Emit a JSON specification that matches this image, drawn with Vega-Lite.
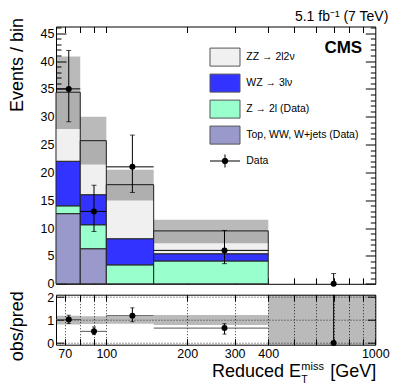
{
  "$schema": "https://vega.github.io/schema/vega-lite/v6.json",
  "padding": {"left": 8, "top": 9.5, "right": 0, "bottom": 0},
  "title": {"text": "5.1 fb⁻¹ (7 TeV)", "anchor": "end", "fontSize": 14, "fontWeight": "normal", "font": "Liberation Sans", "frame": "group", "dx": 13, "offset": -18, "baseline": "alphabetic", "color": "black"},
  "datasets": {
    "stack": [
      {"lo": 65, "hi": 80, "proc": "Top, WW, W+jets (Data)", "v": 12.6, "ord": 1},
      {"lo": 65, "hi": 80, "proc": "Z → 2l (Data)", "v": 1.4, "ord": 2},
      {"lo": 65, "hi": 80, "proc": "WZ → 3lν", "v": 8.0, "ord": 3},
      {"lo": 65, "hi": 80, "proc": "ZZ → 2l2ν", "v": 12.4, "ord": 4},
      {"lo": 80, "hi": 100, "proc": "Top, WW, W+jets (Data)", "v": 6.3, "ord": 1},
      {"lo": 80, "hi": 100, "proc": "Z → 2l (Data)", "v": 4.3, "ord": 2},
      {"lo": 80, "hi": 100, "proc": "WZ → 3lν", "v": 5.4, "ord": 3},
      {"lo": 80, "hi": 100, "proc": "ZZ → 2l2ν", "v": 9.7, "ord": 4},
      {"lo": 100, "hi": 150, "proc": "Z → 2l (Data)", "v": 3.4, "ord": 2},
      {"lo": 100, "hi": 150, "proc": "WZ → 3lν", "v": 4.7, "ord": 3},
      {"lo": 100, "hi": 150, "proc": "ZZ → 2l2ν", "v": 9.7, "ord": 4},
      {"lo": 150, "hi": 400, "proc": "Z → 2l (Data)", "v": 4.1, "ord": 2},
      {"lo": 150, "hi": 400, "proc": "WZ → 3lν", "v": 1.3, "ord": 3},
      {"lo": 150, "hi": 400, "proc": "ZZ → 2l2ν", "v": 4.1, "ord": 4}
    ],
    "band": [
      {"lo": 65, "hi": 80, "blo": 27.8, "bhi": 40.8},
      {"lo": 80, "hi": 100, "blo": 21.4, "bhi": 30.0},
      {"lo": 100, "hi": 150, "blo": 14.95, "bhi": 20.5},
      {"lo": 150, "hi": 400, "blo": 7.3, "bhi": 11.5}
    ],
    "rband": [
      {"lo": 65, "hi": 80, "blo": 0.81, "bhi": 1.19},
      {"lo": 80, "hi": 100, "blo": 0.83, "bhi": 1.17},
      {"lo": 100, "hi": 150, "blo": 0.84, "bhi": 1.16},
      {"lo": 150, "hi": 400, "blo": 0.78, "bhi": 1.22},
      {"lo": 400, "hi": 1000, "blo": -0.07, "bhi": 2.1}
    ],
    "obs": [
      {"xc": 72.5, "lo": 65, "hi": 80, "n": 35, "elo": 29.1, "ehi": 41.9, "r": 1.02, "rlo": 0.85, "rhi": 1.21},
      {"xc": 90, "lo": 80, "hi": 100, "n": 13, "elo": 9.4, "ehi": 17.7, "r": 0.51, "rlo": 0.37, "rhi": 0.7},
      {"xc": 125, "lo": 100, "hi": 150, "n": 21, "elo": 16.4, "ehi": 26.7, "r": 1.19, "rlo": 0.93, "rhi": 1.53},
      {"xc": 275, "lo": 150, "hi": 400, "n": 6, "elo": 3.62, "ehi": 9.58, "r": 0.65, "rlo": 0.39, "rhi": 0.84},
      {"xc": 700, "lo": 400, "hi": 1000, "n": 0, "elo": 0, "ehi": 1.84, "r": 0, "rlo": 0, "rhi": 2.1}
    ]
  },
  "vconcat": [
    {
      "width": 319.3,
      "height": 257.3,
      "resolve": {"axis": {"x": "independent", "y": "independent"}},
      "layer": [
        {
          "data": {"name": "stack"},
          "transform": [{"stack": "v", "groupby": ["lo"], "sort": [{"field": "ord", "order": "ascending"}], "as": ["s0", "s1"]}],
          "mark": {"type": "rect", "stroke": "#222", "strokeWidth": 1},
          "encoding": {
            "x": {"field": "lo", "type": "quantitative", "scale": {"type": "log", "domain": [65, 1000], "nice": false},
                  "axis": {"orient": "bottom", "values": [70, 80, 90, 100, 200, 300, 400, 500, 600, 700, 800, 900], "tickSize": -6, "labels": false, "title": null}},
            "x2": {"field": "hi"},
            "y": {"field": "s1", "type": "quantitative", "scale": {"domain": [0, 46.2], "nice": false, "zero": false},
                  "axis": {"orient": "left", "values": [0, 5, 10, 15, 20, 25, 30, 35, 40, 45], "tickSize": -10, "labelPadding": 12, "title": "Events / bin", "titleFontSize": 18, "titleAngle": -90, "titleX": -33, "titleY": -9, "titleAlign": "right", "titleBaseline": "alphabetic"}},
            "y2": {"field": "s0"},
            "fill": {"field": "proc", "type": "nominal",
                     "scale": {"domain": ["ZZ → 2l2ν", "WZ → 3lν", "Z → 2l (Data)", "Top, WW, W+jets (Data)"], "range": ["#f0f0f0", "#3333ff", "#99ffcc", "#9999cc"]},
                     "legend": {"orient": "none", "legendX": 155.5, "legendY": 17.1, "title": null, "direction": "vertical", "padding": 0, "rowPadding": 1, "symbolSize": 676,
                                "symbolType": "M-1.154,-0.692L1.154,-0.692L1.154,0.692L-1.154,0.692Z", "symbolStrokeColor": "#555", "symbolStrokeWidth": 1, "symbolOpacity": 1,
                                "labelFontSize": 10.5, "labelOffset": 7.8, "labelLimit": 300, "labelColor": "black"}}
          }
        },
        {
          "data": {"values": []},
          "mark": {"type": "point", "fill": "black", "stroke": "black", "strokeWidth": 1, "opacity": 1},
          "encoding": {
            "x": {"field": "px", "type": "quantitative", "scale": {"type": "log", "domain": [65, 1000], "nice": false}, "axis": null},
            "y": {"field": "py", "type": "quantitative", "scale": {"domain": [0, 46.2], "nice": false, "zero": false}, "axis": null},
            "shape": {"datum": "Data", "type": "nominal",
                      "scale": {"domain": ["Data"], "range": ["M-1.154,-0.04L1.154,-0.04L1.154,0.04L-1.154,0.04Z M-0.04,-0.5L0.04,-0.5L0.04,0.5L-0.04,0.5Z M0.25,0A0.25,0.25,0,1,1,-0.25,0A0.25,0.25,0,1,1,0.25,0Z"]},
                      "legend": {"orient": "none", "legendX": 155.5, "legendY": 121.1, "title": null, "padding": 0, "symbolSize": 676, "symbolStrokeColor": "black", "symbolFillColor": "black", "symbolStrokeWidth": 1, "symbolOpacity": 1,
                                 "labelFontSize": 10.5, "labelOffset": 7.8, "labelLimit": 300, "labelColor": "black",
                                 "encode": {"symbols": {"update": {"fill": {"value": "black"}}}}}}
          }
        },
        {
          "data": {"name": "band"},
          "mark": {"type": "rect", "fill": "#000", "fillOpacity": 0.27},
          "encoding": {
            "x": {"field": "lo", "type": "quantitative", "scale": {"type": "log", "domain": [65, 1000], "nice": false},
                  "axis": {"orient": "top", "values": [70, 80, 90, 100, 200, 300, 400, 500, 600, 700, 800, 900], "tickSize": -6, "labels": false, "title": null}},
            "x2": {"field": "hi"},
            "y": {"field": "blo", "type": "quantitative", "scale": {"domain": [0, 46.2], "nice": false, "zero": false},
                  "axis": {"orient": "right", "values": [0, 5, 10, 15, 20, 25, 30, 35, 40, 45], "tickSize": -10, "labels": false, "title": null}},
            "y2": {"field": "bhi"}
          }
        },
        {
          "data": {"name": "obs"},
          "mark": {"type": "rule", "color": "black", "strokeWidth": 1},
          "encoding": {
            "x": {"field": "xc", "type": "quantitative", "scale": {"type": "log", "domain": [65, 1000], "nice": false}, "axis": null},
            "y": {"field": "elo", "type": "quantitative", "scale": {"domain": [0, 46.2], "nice": false, "zero": false},
                  "axis": {"orient": "left", "values": [1, 2, 3, 4, 6, 7, 8, 9, 11, 12, 13, 14, 16, 17, 18, 19, 21, 22, 23, 24, 26, 27, 28, 29, 31, 32, 33, 34, 36, 37, 38, 39, 41, 42, 43, 44, 46], "tickSize": -5, "labels": false, "title": null}},
            "y2": {"field": "ehi"}
          }
        },
        {
          "data": {"name": "obs"},
          "transform": [{"filter": "datum.n > 0"}],
          "mark": {"type": "rule", "color": "black", "strokeWidth": 1},
          "encoding": {
            "x": {"field": "lo", "type": "quantitative", "scale": {"type": "log", "domain": [65, 1000], "nice": false}, "axis": null},
            "x2": {"field": "hi"},
            "y": {"field": "n", "type": "quantitative", "scale": {"domain": [0, 46.2], "nice": false, "zero": false},
                  "axis": {"orient": "right", "values": [1, 2, 3, 4, 6, 7, 8, 9, 11, 12, 13, 14, 16, 17, 18, 19, 21, 22, 23, 24, 26, 27, 28, 29, 31, 32, 33, 34, 36, 37, 38, 39, 41, 42, 43, 44, 46], "tickSize": -5, "labels": false, "title": null}}
          }
        },
        {
          "data": {"name": "obs"},
          "mark": {"type": "tick", "orient": "horizontal", "color": "black", "size": 5, "thickness": 1},
          "encoding": {
            "x": {"field": "xc", "type": "quantitative", "scale": {"type": "log", "domain": [65, 1000], "nice": false}, "axis": null},
            "y": {"field": "ehi", "type": "quantitative", "scale": {"domain": [0, 46.2], "nice": false, "zero": false}, "axis": null}
          }
        },
        {
          "data": {"name": "obs"},
          "mark": {"type": "tick", "orient": "horizontal", "color": "black", "size": 5, "thickness": 1},
          "encoding": {
            "x": {"field": "xc", "type": "quantitative", "scale": {"type": "log", "domain": [65, 1000], "nice": false}, "axis": null},
            "y": {"field": "elo", "type": "quantitative", "scale": {"domain": [0, 46.2], "nice": false, "zero": false}, "axis": null}
          }
        },
        {
          "data": {"name": "obs"},
          "mark": {"type": "point", "filled": true, "color": "black", "size": 36, "opacity": 1},
          "encoding": {
            "x": {"field": "xc", "type": "quantitative", "scale": {"type": "log", "domain": [65, 1000], "nice": false}, "axis": null},
            "y": {"field": "n", "type": "quantitative", "scale": {"domain": [0, 46.2], "nice": false, "zero": false}, "axis": null}
          }
        },
        {
          "data": {"values": [{"t": "CMS"}]},
          "mark": {"type": "text", "fontSize": 17, "fontWeight": "bold", "align": "right", "baseline": "alphabetic", "color": "black"},
          "encoding": {
            "x": {"datum": 894, "type": "quantitative", "scale": {"type": "log", "domain": [65, 1000], "nice": false}, "axis": null},
            "y": {"datum": 41.5, "type": "quantitative", "scale": {"domain": [0, 46.2], "nice": false, "zero": false}, "axis": null},
            "text": {"field": "t"}
          }
        }
      ]
    },
    {
      "width": 319.3,
      "height": 50,
      "resolve": {"axis": {"x": "independent", "y": "independent"}},
      "layer": [
        {
          "data": {"name": "rband"},
          "mark": {"type": "rect", "fill": "#000", "fillOpacity": 0.27, "clip": true},
          "encoding": {
            "x": {"field": "lo", "type": "quantitative", "scale": {"type": "log", "domain": [65, 1000], "nice": false},
                  "axis": {"orient": "bottom", "values": [70, 80, 90, 100, 200, 300, 400, 500, 600, 700, 800, 900, 1000], "format": "d", "labelExpr": "indexof([70,100,200,300,400,1000], datum.value) >= 0 ? datum.label : ''", "labelOverlap": false, "labelFlush": false, "tickSize": -6, "labelPadding": 9, "title": null, "grid": true, "gridDash": [1, 2], "gridColor": "#000", "gridOpacity": 0.8}},
            "x2": {"field": "hi"},
            "y": {"field": "blo", "type": "quantitative", "scale": {"domain": [-0.07, 2.1], "nice": false, "zero": false},
                  "axis": {"orient": "left", "values": [0, 1, 2], "tickSize": -8, "labelPadding": 10.4, "grid": true, "gridDash": [1, 2], "gridColor": "#000", "gridOpacity": 0.8, "title": "obs/pred", "titleFontSize": 18, "titleAngle": -90, "titleX": -33, "titleY": -4, "titleAlign": "right", "titleBaseline": "alphabetic"}},
            "y2": {"field": "bhi"}
          }
        },
        {
          "data": {"name": "obs"},
          "transform": [{"filter": "datum.n > 0"}],
          "mark": {"type": "rule", "color": "#555", "strokeWidth": 1},
          "encoding": {
            "x": {"field": "lo", "type": "quantitative", "scale": {"type": "log", "domain": [65, 1000], "nice": false},
                  "axis": {"orient": "top", "values": [70, 80, 90, 100, 200, 300, 400, 500, 600, 700, 800, 900], "tickSize": -6, "labels": false, "title": null}},
            "x2": {"field": "hi"},
            "y": {"field": "r", "type": "quantitative", "scale": {"domain": [-0.07, 2.1], "nice": false, "zero": false},
                  "axis": {"orient": "right", "values": [0, 1, 2], "tickSize": -8, "labels": false, "title": null}}
          }
        },
        {
          "data": {"name": "obs"},
          "mark": {"type": "rule", "color": "black", "strokeWidth": 1},
          "encoding": {
            "x": {"field": "xc", "type": "quantitative", "scale": {"type": "log", "domain": [65, 1000], "nice": false}, "axis": null},
            "y": {"field": "rlo", "type": "quantitative", "scale": {"domain": [-0.07, 2.1], "nice": false, "zero": false}, "axis": null},
            "y2": {"field": "rhi"}
          }
        },
        {
          "data": {"name": "obs"},
          "transform": [{"filter": "datum.n > 0"}],
          "mark": {"type": "tick", "orient": "horizontal", "color": "black", "size": 4, "thickness": 1},
          "encoding": {
            "x": {"field": "xc", "type": "quantitative", "scale": {"type": "log", "domain": [65, 1000], "nice": false}, "axis": null},
            "y": {"field": "rhi", "type": "quantitative", "scale": {"domain": [-0.07, 2.1], "nice": false, "zero": false}, "axis": null}
          }
        },
        {
          "data": {"name": "obs"},
          "transform": [{"filter": "datum.n > 0"}],
          "mark": {"type": "tick", "orient": "horizontal", "color": "black", "size": 4, "thickness": 1},
          "encoding": {
            "x": {"field": "xc", "type": "quantitative", "scale": {"type": "log", "domain": [65, 1000], "nice": false}, "axis": null},
            "y": {"field": "rlo", "type": "quantitative", "scale": {"domain": [-0.07, 2.1], "nice": false, "zero": false}, "axis": null}
          }
        },
        {
          "data": {"name": "obs"},
          "mark": {"type": "point", "filled": true, "color": "black", "size": 36, "opacity": 1},
          "encoding": {
            "x": {"field": "xc", "type": "quantitative", "scale": {"type": "log", "domain": [65, 1000], "nice": false}, "axis": null},
            "y": {"field": "r", "type": "quantitative", "scale": {"domain": [-0.07, 2.1], "nice": false, "zero": false}, "axis": null}
          }
        },
        {
          "data": {"values": [{"t": "Reduced E"}]},
          "mark": {"type": "text", "fontSize": 18, "align": "left", "baseline": "alphabetic", "color": "black"},
          "encoding": {
            "x": {"datum": 247, "type": "quantitative", "scale": {"type": "log", "domain": [65, 1000], "nice": false}, "axis": null},
            "y": {"datum": -1.48, "type": "quantitative", "scale": {"domain": [-0.07, 2.1], "nice": false, "zero": false}, "axis": null},
            "text": {"field": "t"}
          }
        },
        {
          "data": {"values": [{"t": "miss"}]},
          "mark": {"type": "text", "fontSize": 11, "align": "left", "baseline": "alphabetic", "color": "black"},
          "encoding": {
            "x": {"datum": 531, "type": "quantitative", "scale": {"type": "log", "domain": [65, 1000], "nice": false}, "axis": null},
            "y": {"datum": -1.18, "type": "quantitative", "scale": {"domain": [-0.07, 2.1], "nice": false, "zero": false}, "axis": null},
            "text": {"field": "t"}
          }
        },
        {
          "data": {"values": [{"t": "T"}]},
          "mark": {"type": "text", "fontSize": 10.5, "align": "left", "baseline": "alphabetic", "color": "black"},
          "encoding": {
            "x": {"datum": 531, "type": "quantitative", "scale": {"type": "log", "domain": [65, 1000], "nice": false}, "axis": null},
            "y": {"datum": -1.74, "type": "quantitative", "scale": {"domain": [-0.07, 2.1], "nice": false, "zero": false}, "axis": null},
            "text": {"field": "t"}
          }
        },
        {
          "data": {"values": [{"t": "[GeV]"}]},
          "mark": {"type": "text", "fontSize": 18, "align": "left", "baseline": "alphabetic", "color": "black"},
          "encoding": {
            "x": {"datum": 680, "type": "quantitative", "scale": {"type": "log", "domain": [65, 1000], "nice": false}, "axis": null},
            "y": {"datum": -1.48, "type": "quantitative", "scale": {"domain": [-0.07, 2.1], "nice": false, "zero": false}, "axis": null},
            "text": {"field": "t"}
          }
        }
      ]
    }
  ],
  "spacing": 10.2,
  "bounds": "flush",
  "config": {
    "font": "Liberation Sans",
    "view": {"stroke": "black", "strokeWidth": 1},
    "axis": {"domain": false, "grid": false, "labelColor": "black", "tickColor": "black", "titleColor": "black", "labelFont": "Liberation Sans", "titleFont": "Liberation Sans", "titleFontWeight": "normal", "labelFontSize": 12.5, "tickWidth": 1},
    "legend": {"labelFont": "Liberation Sans"}
  }
}
